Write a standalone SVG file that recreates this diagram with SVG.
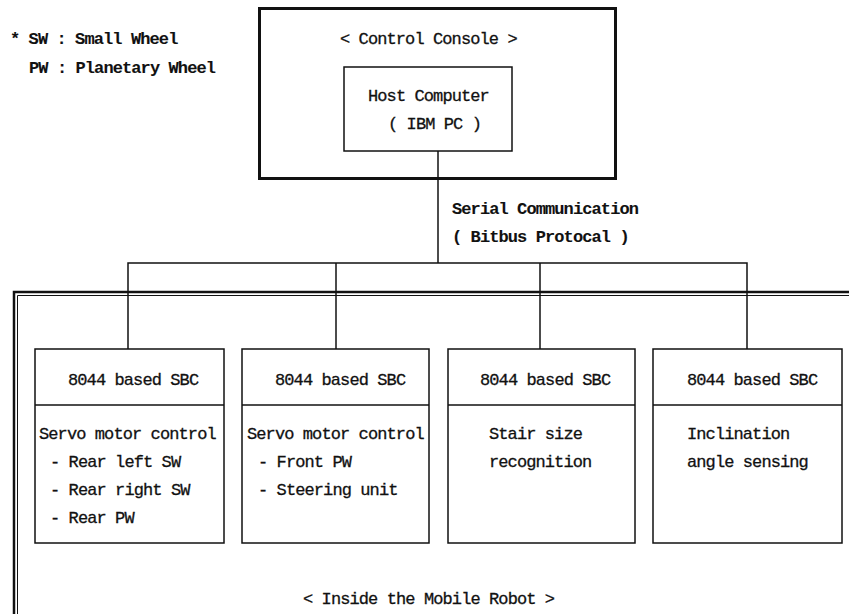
<svg xmlns="http://www.w3.org/2000/svg" width="849" height="614" viewBox="0 0 849 614">
<style>
text{font-family:"Liberation Mono","DejaVu Sans Mono",monospace;font-size:17px;letter-spacing:-0.9px;fill:#111;stroke:#111;stroke-width:0.3px;}
.b{font-weight:bold;stroke-width:0.1px;}
.box{fill:none;stroke:#111;stroke-width:1.5;}
.line{fill:none;stroke:#111;stroke-width:1.5;}
</style>
<rect width="849" height="614" fill="#fff"/>
<g id="legend">
<text class="b" x="10" y="44">* SW : Small Wheel</text>
<text class="b" x="29" y="73">PW : Planetary Wheel</text>
</g>
<g id="control-console">
<rect x="259.5" y="8.5" width="356" height="170" fill="none" stroke="#111" stroke-width="3"/>
<text x="340" y="44">&lt; Control Console &gt;</text>
</g>
<g id="host-computer">
<rect class="box" x="344" y="67" width="168" height="84" fill="#fff"/>
<text x="368" y="101">Host Computer</text>
<text x="388" y="129">( IBM PC )</text>
</g>
<g id="robot-boundary">
<path d="M849,292 H14 V614" fill="none" stroke="#111" stroke-width="2.5"/>
<path d="M849,295.5 H17.5 V614" fill="none" stroke="#111" stroke-width="1"/>
<text x="303" y="604">&lt; Inside the Mobile Robot &gt;</text>
</g>
<g id="connectors">
<path class="line" d="M438,151 V263"/>
<path class="line" d="M128,349 V263 H747 V349"/>
<path class="line" d="M336,263 V349"/>
<path class="line" d="M540,263 V349"/>
<text class="b" x="452" y="214">Serial Communication</text>
<text class="b" x="452" y="242">( Bitbus Protocal )</text>
</g>
<g id="sbc1">
<rect class="box" x="35" y="349" width="189" height="194"/>
<path class="line" d="M35,405 H224"/>
<text x="68" y="385">8044 based SBC</text>
<text x="39" y="439">Servo motor control</text>
<text x="50" y="467">- Rear left SW</text>
<text x="50" y="495">- Rear right SW</text>
<text x="50" y="523">- Rear PW</text>
</g>
<g id="sbc2">
<rect class="box" x="242" y="349" width="187" height="194"/>
<path class="line" d="M242,405 H429"/>
<text x="275" y="385">8044 based SBC</text>
<text x="247" y="439">Servo motor control</text>
<text x="258" y="467">- Front PW</text>
<text x="258" y="495">- Steering unit</text>
</g>
<g id="sbc3">
<rect class="box" x="448" y="349" width="187" height="194"/>
<path class="line" d="M448,405 H635"/>
<text x="480" y="385">8044 based SBC</text>
<text x="489" y="439">Stair size</text>
<text x="489" y="467">recognition</text>
</g>
<g id="sbc4">
<rect class="box" x="653" y="349" width="189" height="194"/>
<path class="line" d="M653,405 H842"/>
<text x="687" y="385">8044 based SBC</text>
<text x="687" y="439">Inclination</text>
<text x="687" y="467">angle sensing</text>
</g>
</svg>
